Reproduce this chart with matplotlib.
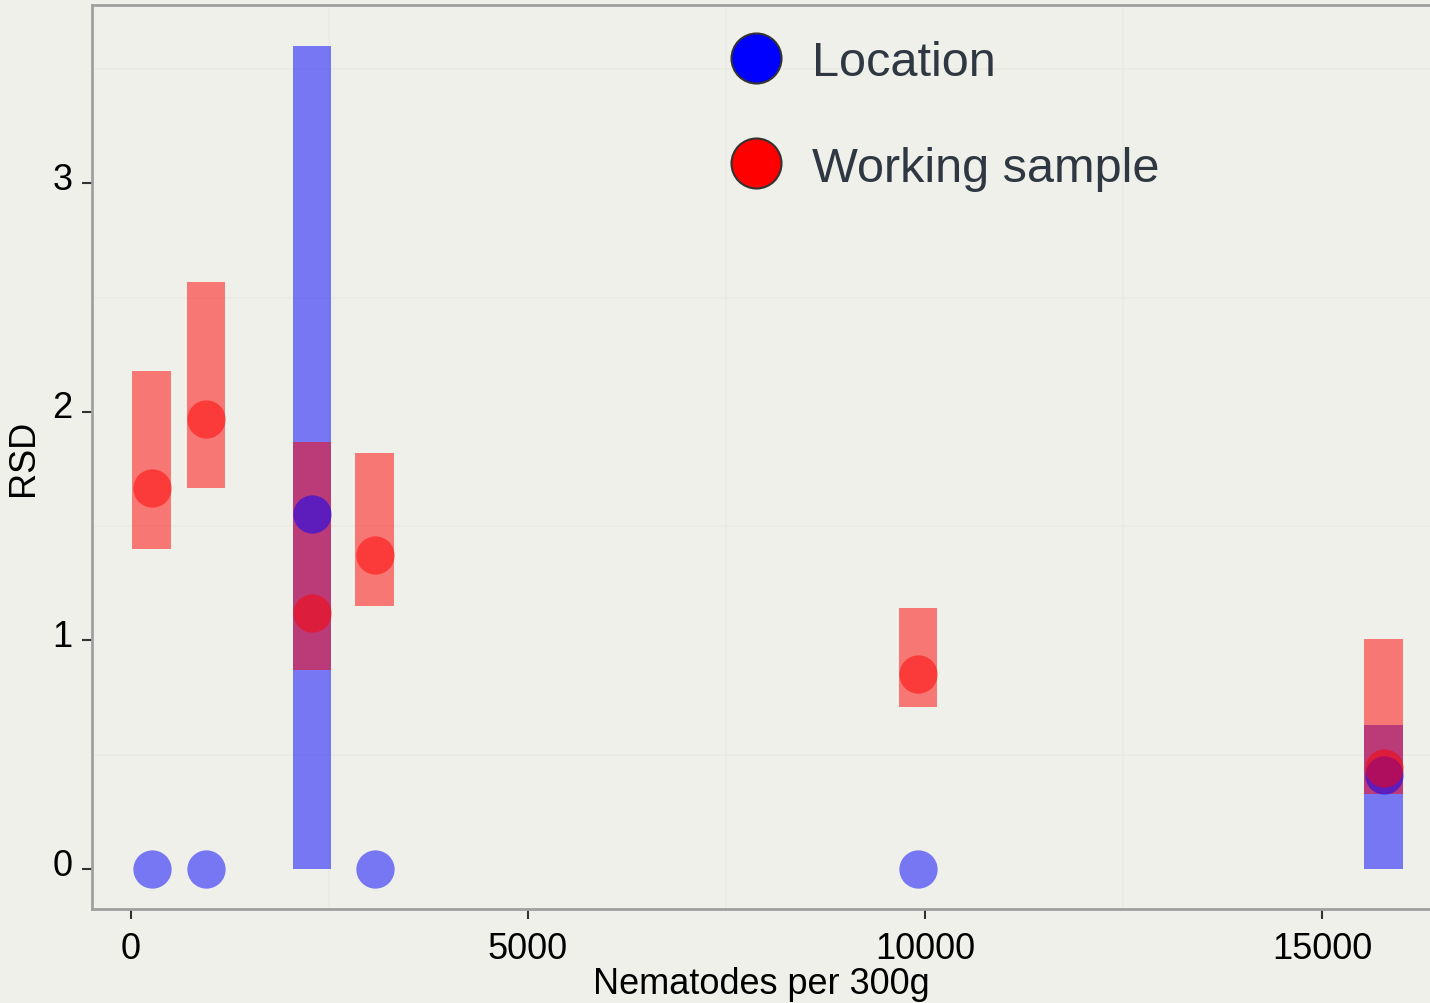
import matplotlib
matplotlib.use("Agg")
import matplotlib.pyplot as plt
import matplotlib.transforms as mtransforms
from matplotlib.lines import Line2D

plt.rcParams['font.family'] = ['Liberation Sans', 'DejaVu Sans']

# nematodes per 300g for each sample group
nematodes = [264, 945, 2280, 3073, 9912, 15780]

# location RSD: point and range
loc_rsd = [0, 0, 1.555, 0, 0, 0.41]
loc_low = [0, 0, 0, 0, 0, 0]
loc_high = [0, 0, 3.60, 0, 0, 0.63]

# working sample RSD: point and range
ws_rsd = [1.665, 1.97, 1.12, 1.375, 0.854, 0.44]
ws_low = [1.40, 1.665, 0.87, 1.15, 0.71, 0.33]
ws_high = [2.18, 2.57, 1.87, 1.82, 1.14, 1.007]

bg = '#eff0ea'
fig = plt.figure(figsize=(14.3, 10.04), dpi=100, facecolor=bg)
ax = fig.add_axes([0.0643, 0.0936, 0.9357, 0.9004], facecolor=bg)

bar_w = 490
# location ranges (only where there is a range)
for x, lo, hi in zip(nematodes, loc_low, loc_high):
    if hi > lo:
        ax.bar(x, hi - lo, bottom=lo, width=bar_w, color='blue', alpha=0.5,
               linewidth=0, zorder=2)
for x, lo, hi in zip(nematodes, ws_low, ws_high):
    ax.bar(x, hi - lo, bottom=lo, width=bar_w, color='red', alpha=0.5,
           linewidth=0, zorder=3)

ax.scatter(nematodes, loc_rsd, s=760, color='blue', alpha=0.5, linewidths=0, zorder=4)
ax.scatter(nematodes, ws_rsd, s=760, color='red', alpha=0.5, linewidths=0, zorder=5)

ax.set_xlim(-491, 16360)
ax.set_ylim(-0.175, 3.78)

ax.set_xticks([0, 5000, 10000, 15000])
ax.set_yticks([0, 1, 2, 3])
ax.set_xticks([2500, 7500, 12500], minor=True)
ax.set_yticks([0.5, 1.5, 2.5, 3.5], minor=True)
ax.grid(which='minor', color='#e9eae3', linewidth=1.2, zorder=0)
ax.tick_params(which='minor', length=0)
ax.tick_params(which='major', labelsize=26, length=7, width=1.5, color='#333333',
               pad=7)
ax.tick_params(axis='x', pad=9)

# y tick labels sit a little above their ticks
shift = mtransforms.ScaledTranslation(0, 8 / 100, fig.dpi_scale_trans)
for lab in ax.get_yticklabels():
    lab.set_transform(lab.get_transform() + shift)

for side in ['left', 'bottom', 'top']:
    ax.spines[side].set_color('#a0a0a0')
    ax.spines[side].set_linewidth(2)
ax.spines['right'].set_visible(False)

ax.set_xlabel('Nematodes per 300g', fontsize=26, labelpad=0)
ax.set_ylabel('RSD', fontsize=26, labelpad=8)

handles = [
    Line2D([], [], linestyle='none', marker='o', markersize=36,
           markerfacecolor='blue', markeredgecolor='#333333', markeredgewidth=1.5),
    Line2D([], [], linestyle='none', marker='o', markersize=36,
           markerfacecolor='red', markeredgecolor='#333333', markeredgewidth=1.5),
]
leg = ax.legend(handles, ['Location', 'Working sample'], loc='upper left',
                bbox_to_anchor=(0.478, 1.003), bbox_transform=fig.transFigure,
                frameon=False, fontsize=35, labelspacing=1.25, handletextpad=0.55,
                handlelength=1.2)
for t in leg.get_texts():
    t.set_color('#2f3842')

fig.savefig('out.png', dpi=100, facecolor=bg)
